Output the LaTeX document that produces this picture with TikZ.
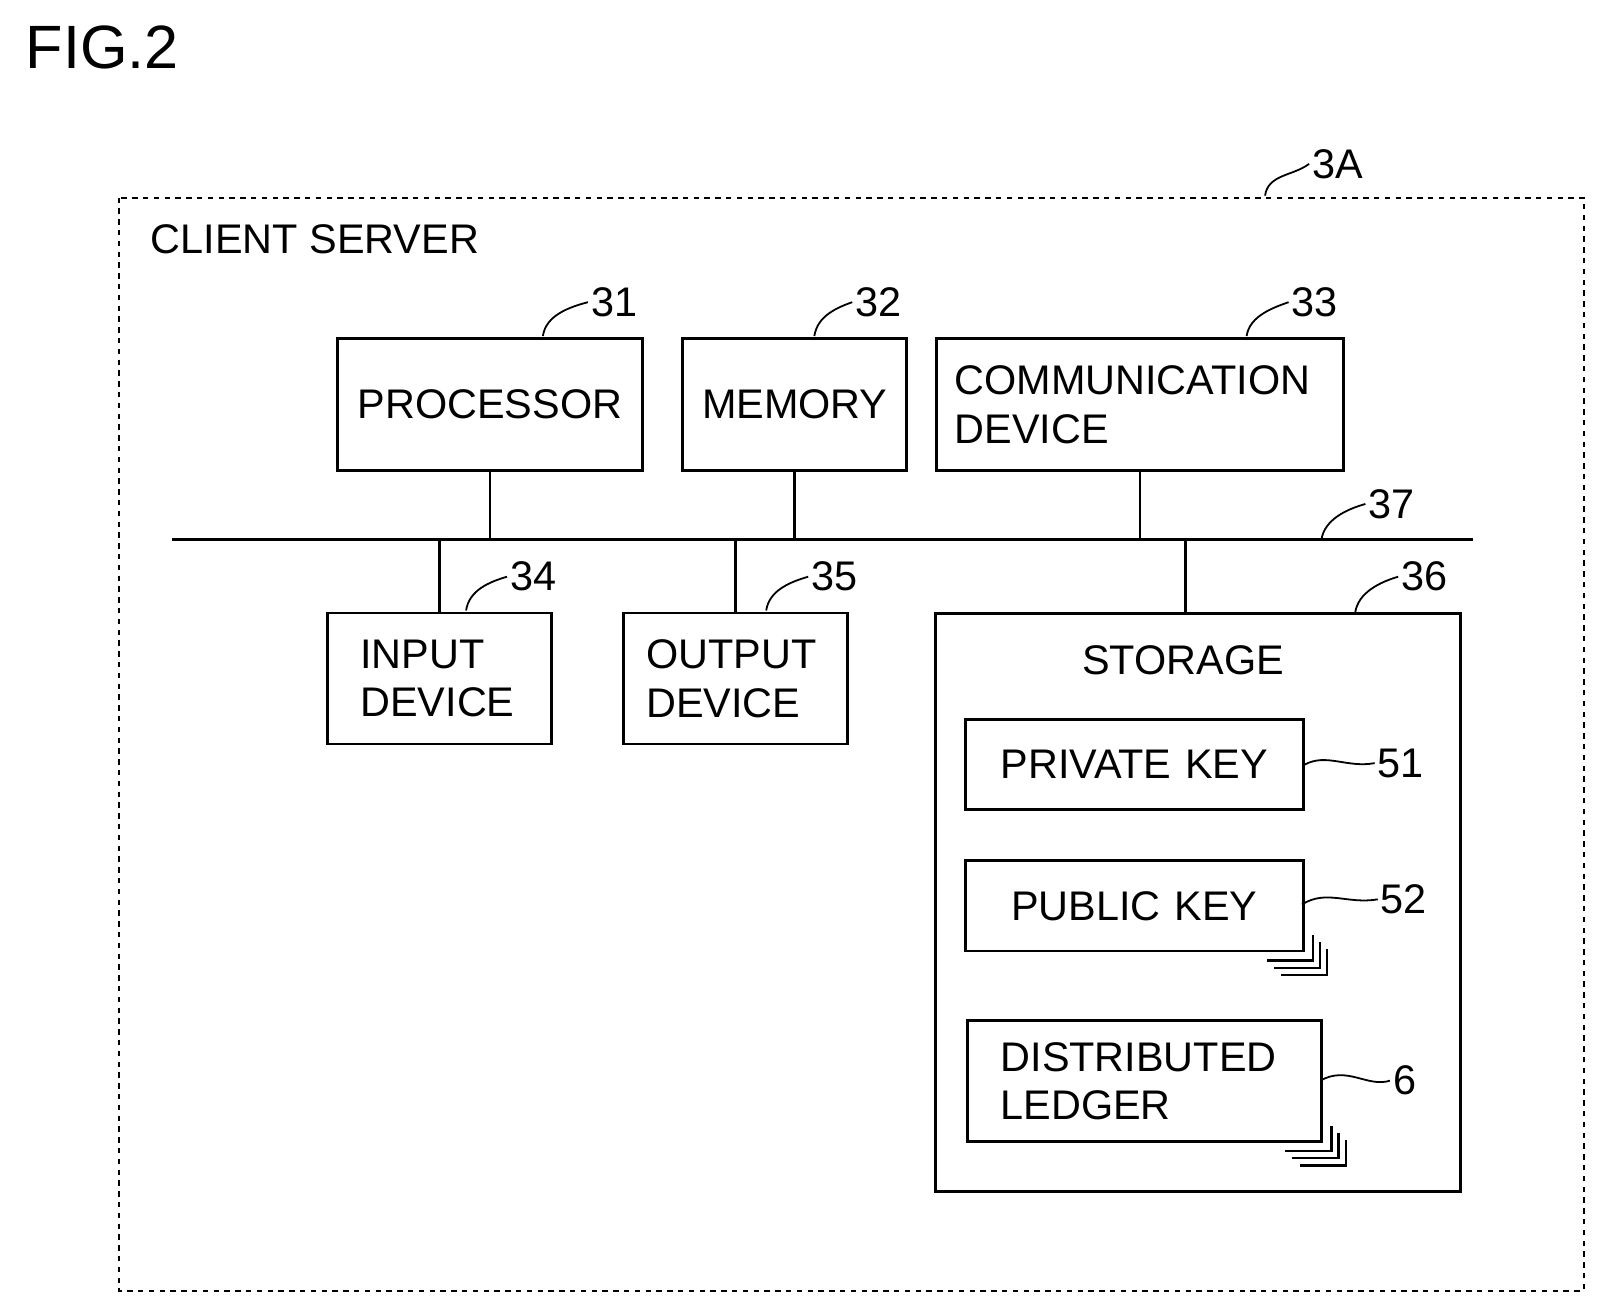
\documentclass[tikz,border=0pt]{standalone}
\usepackage{fontspec}
\setmainfont{Liberation Sans}
\usetikzlibrary{positioning}
\begin{document}
\begin{tikzpicture}[
    x=0.02cm, y=-0.02cm,
    line width=1.6pt,
    font=\fontsize{23}{27}\selectfont
    ]
    \tikzset{
    box/.style={draw, inner sep=0pt, anchor=north west},
    num/.style={inner sep=1pt, anchor=west},
    lead/.style={line width=1pt},
    stack/.style={line width=1.3pt}
    }
    \useasboundingbox (0,0) rectangle (1562,1277);
    \node[anchor=north west, font=\fontsize{34}{40}\selectfont] (fig) at (18,18) {FIG.2};

    % client server frame
    \draw[dashed, line width=1pt] (116,193) rectangle (1546,1260);
    \coordinate (frame) at (1235,191);
    \node[num] (n3A) at (1278,160) {3A};
    \draw[lead] (frame) .. controls (1238,170) and (1262,172) .. (n3A.west);
    \node[anchor=west] (title) at (140,234) {CLIENT SERVER};

    % units on the bus
    \node[box, minimum width=298\pgflinewidth/1.6pt*0.02cm, text width=5.96cm, minimum height=2.58cm, align=center] (cpu) at (328,329) {PROCESSOR};
    \node[box, text width=4.38cm, minimum height=2.58cm, align=center] (mem) at (665,329) {MEMORY};
    \node[box, text width=7.94cm, minimum height=2.58cm, align=left] (comm) at (913,329) {\hspace{0.35cm}COMMUNICATION\\\hspace{0.35cm}DEVICE};
    \node[box, text width=4.38cm, minimum height=2.56cm, align=left] (in) at (318,597) {\hspace{0.65cm}INPUT\\\hspace{0.65cm}DEVICE};
    \node[box, text width=4.38cm, minimum height=2.56cm, align=left] (out) at (607,597) {\hspace{0.45cm}OUTPUT\\\hspace{0.45cm}DEVICE};
    \draw (913,599) rectangle (1426,1163);
    \coordinate (stor) at (1157,599);
    \node (storlbl) at (1155,645) {STORAGE};
    \node[box, text width=6.6cm, minimum height=1.76cm, align=center] (priv) at (941,701) {PRIVATE KEY};
    \node[box, text width=6.6cm, minimum height=1.76cm, align=center] (pub) at (941,839) {PUBLIC KEY};
    \node[box, text width=6.92cm, minimum height=2.36cm, align=left] (ledger) at (943,995) {\hspace{0.65cm}DISTRIBUTED\\\hspace{0.65cm}LEDGER};

    % stacked copies
    \foreach \d in {8,15,22} {
      \draw[stack] ([xshift=\d*0.02cm, yshift=-\d*0.02cm+0.5cm]pub.south east) |- ([xshift=\d*0.02cm-0.9cm, yshift=-\d*0.02cm]pub.south east);
      \draw[stack] ([xshift=\d*0.02cm, yshift=-\d*0.02cm+0.5cm]ledger.south east) |- ([xshift=\d*0.02cm-0.9cm, yshift=-\d*0.02cm]ledger.south east);
    }

    % bus
    \coordinate (busL) at (168,527);
    \coordinate (busR) at (1438,527);
    \draw (busL) -- (busR);
    \draw (cpu.south) -- (cpu.south |- busL);
    \draw (mem.south) -- (mem.south |- busL);
    \draw (comm.south) -- (comm.south |- busL);
    \draw (in.north) -- (in.north |- busL);
    \draw (out.north) -- (out.north |- busL);
    \draw (stor) -- (stor |- busL);

    % reference numerals
    \node[num] (n31) at (574,295) {31};
    \node[num] (n32) at (832,295) {32};
    \node[num] (n33) at (1258,295) {33};
    \node[num] (n37) at (1333,492) {37};
    \node[num] (n34) at (495,563) {34};
    \node[num] (n35) at (789,563) {35};
    \node[num] (n36) at (1365,563) {36};
    \node[num] (n51) at (1342,745) {51};
    \node[num] (n52) at (1345,878) {52};
    \node[num] (n6) at (1357,1055) {6};
    \draw[lead] (530,328) .. controls (533,308) and (555,300) .. (n31.west);
    \draw[lead] (795,328) .. controls (798,308) and (818,300) .. (n32.west);
    \draw[lead] (1217,328) .. controls (1220,308) and (1244,300) .. (n33.west);
    \draw[lead] (1290,527) .. controls (1293,507) and (1315,497) .. (n37.west);
    \draw[lead] (455,596) .. controls (458,576) and (478,568) .. (n34.west);
    \draw[lead] (748,596) .. controls (751,576) and (772,568) .. (n35.west);
    \draw[lead] (1323,598) .. controls (1326,578) and (1348,568) .. (n36.west);
    \draw[lead] (priv.east) .. controls (1295,735) and (1315,750) .. (n51.west);
    \draw[lead] (1271,883) .. controls (1295,868) and (1315,883) .. (n52.west);
    \draw[lead] (1289,1055) .. controls (1315,1040) and (1335,1062) .. (n6.west);
\end{tikzpicture}
\end{document}
